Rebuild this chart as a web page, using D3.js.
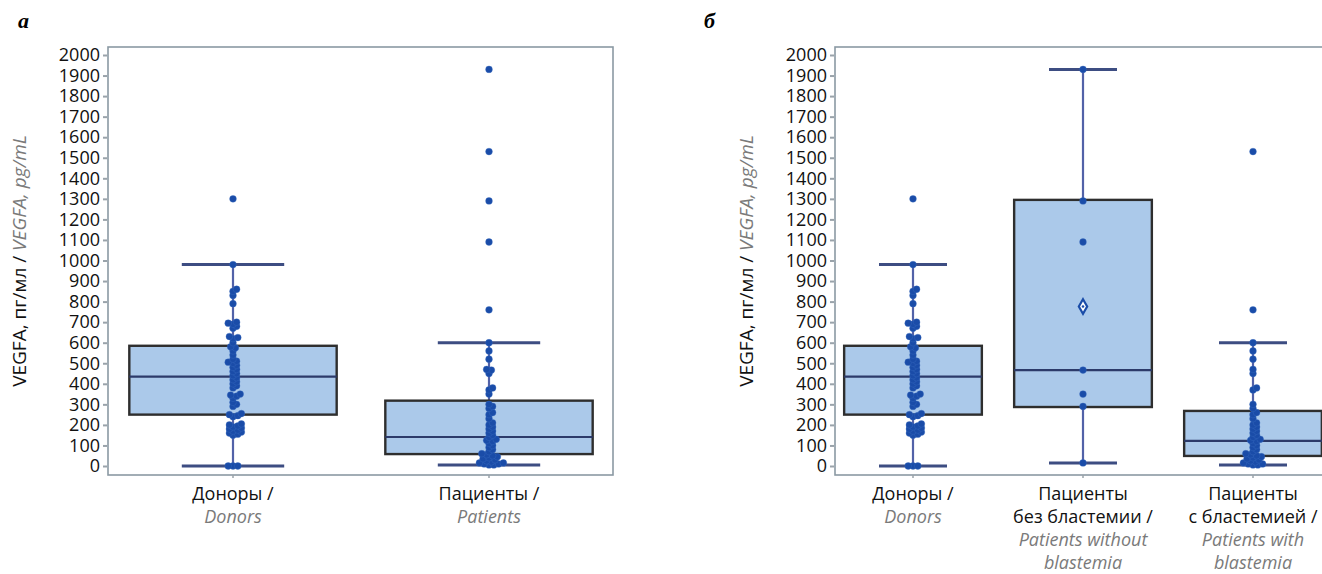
<!DOCTYPE html>
<html>
<head>
<meta charset="utf-8">
<script src="https://cdn.jsdelivr.net/npm/d3@7"></script>
<style>
  body { margin: 0; background: #fff; }
  svg { font-family: "Open Sans", sans-serif; }
</style>
</head>
<body>
<svg id="chart" width="1322" height="574"></svg>
<script>
// values (pg/mL)
let donors = [0, 0, 0, 150, 155, 160, 165, 170, 175, 180, 185, 190, 195, 200, 205, 240, 245, 250, 255,
  290, 300, 310, 330, 340, 345, 350, 380, 390, 400, 410, 420, 430, 440, 450, 460, 470, 480, 490,
  500, 505, 510, 520, 540, 560, 575, 580, 600, 620, 625, 630, 670, 680, 690, 695, 700, 790, 830,
  850, 860, 980, 1300];
let withoutBlast = [15, 290, 350, 467, 1090, 1290, 1930];
let withBlast = [5, 5, 10, 10, 15, 20, 25, 30, 35, 40, 45, 50, 55, 60, 70, 80, 90, 100, 110, 120,
  125, 130, 140, 150, 160, 170, 180, 190, 200, 210, 230, 250, 260, 280, 300, 370, 380, 450, 470,
  520, 560, 600, 760, 1530];
let patients = withoutBlast.concat(withBlast);

// box statistics: [lower whisker, q1, median, q3, upper whisker]
let donorsBox = [0, 250, 435, 585, 980];
let patientsBox = [5, 58, 141, 318, 600];
let withoutBox = [15, 287, 467, 1295, 1930];
let withBox = [5, 49, 122, 268, 600];

let yTicks = d3.range(0, 2001, 100);

let panelA = {
  label: "а", labelX: 18, frame: [108, 613], xRange: [105, 617],
  groups: [
    {name: ["Доноры /"], en: ["Donors"], values: donors, box: donorsBox},
    {name: ["Пациенты /"], en: ["Patients"], values: patients, box: patientsBox}
  ],
  yTitleX: 26
};
let panelB = {
  label: "б", labelX: 704, frame: [835, 1345], xRange: [828, 1338],
  groups: [
    {name: ["Доноры /"], en: ["Donors"], values: donors, box: donorsBox},
    {name: ["Пациенты", "без бластемии /"], en: ["Patients without", "blastemia"], values: withoutBlast, box: withoutBox, mean: true},
    {name: ["Пациенты", "с бластемией /"], en: ["Patients with", "blastemia"], values: withBlast, box: withBox}
  ],
  yTitleX: 753
};

let svg = d3.select("#chart");
let y = d3.scaleLinear().domain([0, 2000]).range([466, 55]);
let plotTop = 47, plotBottom = 475;

function swarm(values, r) {
  // simple horizontal dodge so dots sit side by side
  let placed = [];
  let sorted = values.map((v, i) => ({v, i})).sort((a, b) => a.v - b.v);
  sorted.forEach(d => {
    let py = y(d.v);
    let offsets = [0];
    for (let k = 1; k < 14; k++) { offsets.push(k * 1.2, -k * 1.2); }
    let dx = offsets.find(o => placed.every(p => (p.x - o) ** 2 + (p.y - py) ** 2 >= r * r));
    if (dx === undefined) dx = 0;
    placed.push({x: dx, y: py, v: d.v});
  });
  return placed;
}

function drawPanel(p) {
  let g = svg.append("g");
  let x = d3.scaleBand().domain(p.groups.map((d, i) => i)).range(p.xRange);
  let bw = x.bandwidth();

  g.append("text").attr("x", p.labelX).attr("y", 28)
    .style("font-family", "'Liberation Serif', serif").style("font-weight", "bold")
    .style("font-style", "italic").style("font-size", "22px").text(p.label);

  // frame
  g.append("rect").attr("x", p.frame[0]).attr("y", plotTop)
    .attr("width", p.frame[1] - p.frame[0]).attr("height", plotBottom - plotTop)
    .attr("fill", "none").attr("stroke", "#8b99a3").attr("stroke-width", 1.6);

  // y axis
  let yAxis = g.append("g").attr("transform", `translate(${p.frame[0] - 1},0)`)
    .call(d3.axisLeft(y).tickValues(yTicks).tickFormat(d3.format("d")).tickSize(4).tickPadding(3));
  yAxis.select(".domain").remove();
  yAxis.selectAll(".tick line").attr("stroke", "#9aa3aa").attr("stroke-width", 2);
  yAxis.selectAll(".tick text").style("font-size", "18px").attr("fill", "#111")
    .style("font-family", "'Open Sans', sans-serif");

  // y title
  let yt = g.append("text").attr("transform", `translate(${p.yTitleX},261) rotate(-90)`)
    .attr("text-anchor", "middle").style("font-size", "19px");
  yt.append("tspan").attr("fill", "#111").text("VEGFA, пг/мл / ");
  yt.append("tspan").attr("fill", "#7a7a7a").style("font-style", "italic").text("VEGFA, pg/mL");

  p.groups.forEach((grp, i) => {
    let cx = x(i) + bw / 2;
    let b = grp.box;
    let boxW = bw * 0.81, capW = bw * 0.4;

    // whiskers
    g.append("line").attr("x1", cx).attr("x2", cx).attr("y1", y(b[3])).attr("y2", y(b[4]))
      .attr("stroke", "#5262a8").attr("stroke-width", 2.2);
    g.append("line").attr("x1", cx).attr("x2", cx).attr("y1", y(b[1])).attr("y2", y(b[0]))
      .attr("stroke", "#5262a8").attr("stroke-width", 2.2);
    [b[0], b[4]].forEach(v => {
      g.append("line").attr("x1", cx - capW / 2).attr("x2", cx + capW / 2)
        .attr("y1", y(v)).attr("y2", y(v))
        .attr("stroke", "#3d4d82").attr("stroke-width", 3);
    });

    // box
    g.append("rect").attr("x", cx - boxW / 2).attr("y", y(b[3]))
      .attr("width", boxW).attr("height", y(b[1]) - y(b[3]))
      .attr("fill", "#abc9ea").attr("stroke", "#2e2e2e").attr("stroke-width", 2.4);
    g.append("line").attr("x1", cx - boxW / 2).attr("x2", cx + boxW / 2)
      .attr("y1", y(b[2])).attr("y2", y(b[2]))
      .attr("stroke", "#2c3a6a").attr("stroke-width", 2.2);

    // points
    let pts = swarm(grp.values, 3.8);
    g.selectAll(null).data(pts).enter().append("circle")
      .attr("cx", d => cx + d.x).attr("cy", d => d.y).attr("r", 3.4)
      .attr("fill", "#1a4ca8").attr("stroke", "#3a6cc0").attr("stroke-width", 0.6)
      .attr("stroke-opacity", 0.6);

    if (grp.mean) {
      let m = d3.mean(grp.values);
      g.append("path").attr("d", d3.symbol(d3.symbolDiamond, 60)())
        .attr("transform", `translate(${cx},${y(m)})`)
        .attr("fill", "#fff").attr("stroke", "#1a4ca8").attr("stroke-width", 2.2);
      g.append("circle").attr("cx", cx).attr("cy", y(m)).attr("r", 1.3).attr("fill", "#1a4ca8");
    }

    // x tick
    g.append("line").attr("x1", cx).attr("x2", cx).attr("y1", plotBottom).attr("y2", plotBottom + 3)
      .attr("stroke", "#9aa3aa").attr("stroke-width", 1.5);

    // category labels
    let lines = grp.name.map(t => ({t, en: false})).concat(grp.en.map(t => ({t, en: true})));
    lines.forEach((ln, k) => {
      g.append("text").attr("x", cx).attr("y", 500 + k * 23)
        .attr("text-anchor", "middle").style("font-size", "18px")
        .style("font-style", ln.en ? "italic" : "normal")
        .attr("fill", ln.en ? "#7a7a7a" : "#111").text(ln.t);
    });
  });
}

drawPanel(panelA);
drawPanel(panelB);
</script>
</body>
</html>
